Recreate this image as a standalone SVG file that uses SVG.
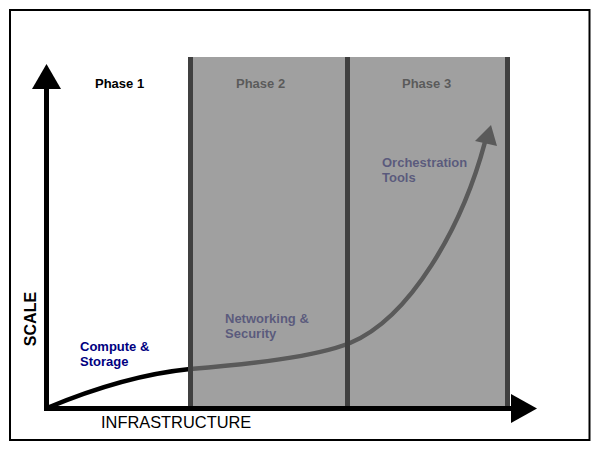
<svg xmlns="http://www.w3.org/2000/svg" width="600" height="450" viewBox="0 0 600 450">
  <style>
    .lbl { font-family: "Liberation Sans", Arial, sans-serif; font-weight: bold; font-size: 13px; }
    .navy { fill: #000080; }
    .divider { fill: #404040; }
  </style>
  <rect x="0" y="0" width="600" height="450" fill="#ffffff"/>
  <rect id="frame" x="10" y="10" width="579.5" height="430" fill="none" stroke="#000" stroke-width="2"/>

  <g id="connectors">
    <path id="growth-curve" d="M47,408 C90,390 140,374 190,369 C250,364 315,357 350,343 C410,318 462,228 485,142" fill="none" stroke="#000" stroke-width="4.5"/>
    <polygon points="491,125 475,141 497,146" fill="#000"/>
  </g>

  <g id="phase1-label"><text class="lbl" x="95" y="88" fill="#000">Phase 1</text></g>
  <g id="phase2-label"><text class="lbl" x="236" y="88" fill="#000">Phase 2</text></g>
  <g id="phase3-label"><text class="lbl" x="402" y="88" fill="#000">Phase 3</text></g>

  <g id="compute-storage">
    <text class="lbl navy" x="80" y="351">Compute &amp;</text>
    <text class="lbl navy" x="80" y="366">Storage</text>
  </g>
  <g id="networking-security">
    <text class="lbl navy" x="225" y="323">Networking &amp;</text>
    <text class="lbl navy" x="225" y="338">Security</text>
  </g>
  <g id="orchestration-tools">
    <text class="lbl navy" x="382" y="167">Orchestration</text>
    <text class="lbl navy" x="382" y="182">Tools</text>
  </g>

  <g id="phase-band">
    <rect x="188" y="57" width="322" height="352" fill="#7c7c7c" fill-opacity="0.725"/>
    <rect class="divider" x="188" y="57" width="5" height="352"/>
    <rect class="divider" x="345" y="57" width="5" height="352"/>
    <rect class="divider" x="505" y="57" width="5" height="352"/>
  </g>

  <g id="axes">
    <rect x="44" y="86" width="5" height="325" fill="#000"/>
    <polygon points="46.5,64 32,89 61,89" fill="#000"/>
    <rect x="44" y="406" width="469" height="5" fill="#000"/>
    <polygon points="537,408.5 511,394 511,423" fill="#000"/>
  </g>

  <g id="scale-label">
    <text x="36" y="319" transform="rotate(-90 36 319)" text-anchor="middle" font-family="'Liberation Sans', Arial, sans-serif" font-weight="bold" font-size="16" fill="#000">SCALE</text>
  </g>
  <g id="infrastructure-label">
    <text x="101" y="428" font-family="'Liberation Sans', Arial, sans-serif" font-size="16.4" fill="#000">INFRASTRUCTURE</text>
  </g>
</svg>
